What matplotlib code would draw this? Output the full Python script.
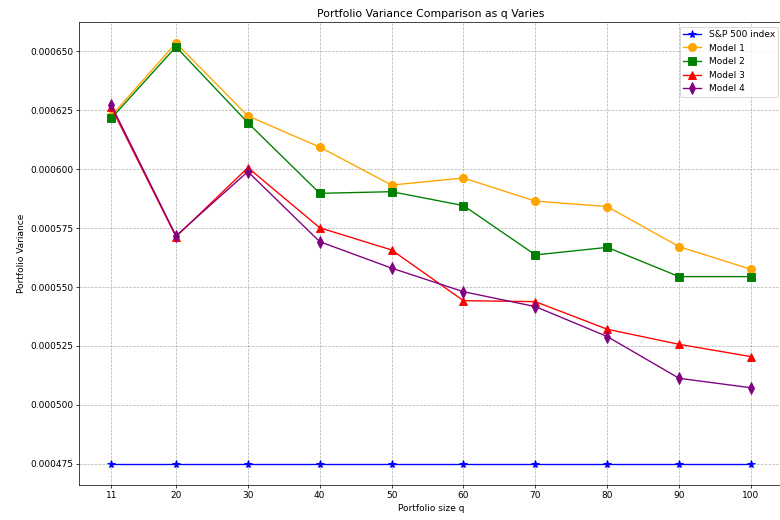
import matplotlib
matplotlib.use("Agg")
import matplotlib.pyplot as plt

q = [11, 20, 30, 40, 50, 60, 70, 80, 90, 100]
sp500 = [0.000475] * 10
model1 = [0.0006225, 0.0006534, 0.0006225, 0.0006093, 0.0005932, 0.0005962, 0.0005864, 0.0005841, 0.0005671, 0.0005575]
model2 = [0.0006215, 0.0006518, 0.0006196, 0.0005897, 0.0005904, 0.0005845, 0.0005636, 0.0005668, 0.0005544, 0.0005544]
model3 = [0.0006261, 0.0005713, 0.0006006, 0.0005751, 0.0005657, 0.0005442, 0.0005438, 0.0005321, 0.0005257, 0.0005205]
model4 = [0.0006271, 0.0005717, 0.0005989, 0.0005692, 0.0005580, 0.0005480, 0.0005417, 0.0005290, 0.0005113, 0.0005073]

series = [
    ("S&P 500 index", sp500, "blue", "*"),
    ("Model 1", model1, "orange", "o"),
    ("Model 2", model2, "green", "s"),
    ("Model 3", model3, "red", "^"),
    ("Model 4", model4, "purple", "d"),
]

fig, ax = plt.subplots(figsize=(12, 8), dpi=65)
for label, vals, color, marker in series:
    ax.plot(q, vals, marker=marker, color=color, label=label, markersize=9)

ax.set_xticks(q)
ax.set_xticklabels([str(v) for v in q])
ax.set_title("Portfolio Variance Comparison as q Varies")
ax.set_xlabel("Portfolio size q")
ax.set_ylabel("Portfolio Variance")
ax.grid(True, linestyle="--", color="gray", alpha=0.6)
ax.legend(loc="upper right")
fig.subplots_adjust(left=0.1017, right=1.0038, top=0.9577, bottom=0.0673)
fig.savefig("out.png", dpi=65)
